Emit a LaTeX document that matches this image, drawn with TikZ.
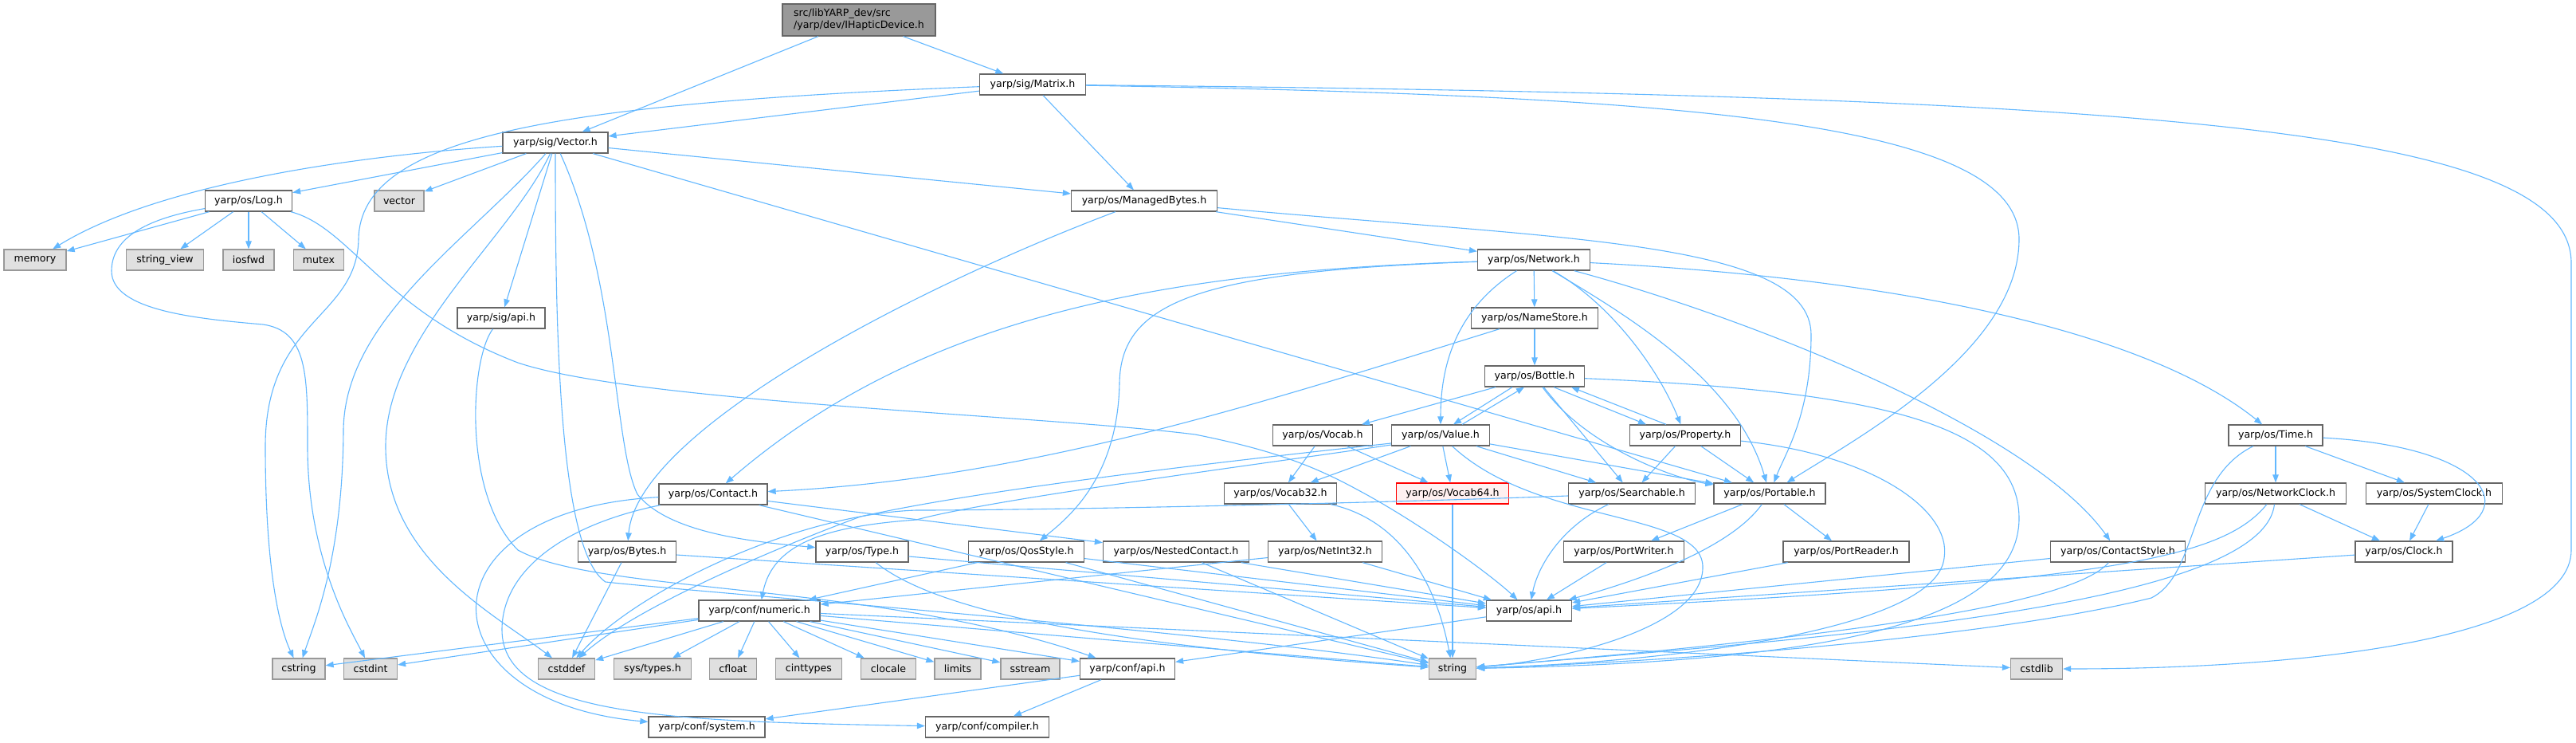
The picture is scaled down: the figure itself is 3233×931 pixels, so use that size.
\documentclass[tikz,border=0pt]{standalone}
\usepackage{fontspec}
\setmainfont{DejaVu Sans}
\usepackage{tikz}
\usetikzlibrary{arrows.meta}
\definecolor{edgeblue}{HTML}{63B8FF}
\definecolor{boxgray}{HTML}{666666}
\definecolor{sysgray}{HTML}{999999}
\definecolor{sysfill}{HTML}{E0E0E0}
\definecolor{rootfill}{HTML}{999999}
\definecolor{cutred}{HTML}{FF0000}
\definecolor{cutfill}{HTML}{FFF0F0}
\tikzstyle{link} = [draw=edgeblue, line width=1.1bp, -{Triangle[length=10bp,width=7.5bp]}]

\begin{document}
\begin{tikzpicture}[x=1bp, y=-1bp, font=\fontsize{12.6bp}{15bp}\selectfont,
	header/.style={rectangle, draw=boxgray, fill=white, line width=1.3bp, minimum width=#1, minimum height=26bp, inner sep=0pt},
	syshdr/.style={header=#1, draw=sysgray, fill=sysfill},
	cuthdr/.style={header=#1, draw=cutred, fill=cutfill},
	roothdr/.style={rectangle, draw=boxgray, fill=rootfill, line width=1.3bp, minimum width=192bp, minimum height=40bp, inner sep=0pt, align=left}]
			
			\useasboundingbox (0,0) rectangle (3233,931);
			\fill[white] (0,0) rectangle (3233,931);
			
			% HEADERS
			
			\node [roothdr] (ihaptic) at (1078,25) {src/libYARP\_dev/src\\/yarp/dev/IHapticDevice.h};
			\node [header=133bp] (matrix) at (1296,106) {yarp/sig/Matrix.h};
			\node [header=132bp] (vector) at (697,179) {yarp/sig/Vector.h};
			\node [header=109bp] (log) at (312,252) {yarp/os/Log.h};
			\node [header=183bp] (mbytes) at (1436,252) {yarp/os/ManagedBytes.h};
			\node [header=141bp] (network) at (1925,326) {yarp/os/Network.h};
			\node [header=110bp] (sigapi) at (629,399) {yarp/sig/api.h};
			\node [header=159bp] (namestore) at (1926,399) {yarp/os/NameStore.h};
			\node [header=125bp] (bottle) at (1926,472) {yarp/os/Bottle.h};
			\node [header=125bp] (vocab) at (1660,546) {yarp/os/Vocab.h};
			\node [header=123bp] (value) at (1808,546) {yarp/os/Value.h};
			\node [header=139bp] (property) at (2115,546) {yarp/os/Property.h};
			\node [header=118bp] (time) at (2856,546) {yarp/os/Time.h};
			\node [header=136bp] (contact) at (895,620) {yarp/os/Contact.h};
			\node [header=141bp] (vocab32) at (1607,619) {yarp/os/Vocab32.h};
			\node [cuthdr=141bp] (vocab64) at (1823,619) {yarp/os/Vocab64.h};
			\node [header=159bp] (searchable) at (2048,619) {yarp/os/Searchable.h};
			\node [header=140bp] (portable) at (2221,619) {yarp/os/Portable.h};
			\node [header=177bp] (netclock) at (2856,619) {yarp/os/NetworkClock.h};
			\node [header=171bp] (sysclock) at (3055,619) {yarp/os/SystemClock.h};
			\node [header=123bp] (bytes) at (787,692) {yarp/os/Bytes.h};
			\node [header=116bp] (type) at (1082,692) {yarp/os/Type.h};
			\node [header=145bp] (qos) at (1288,692) {yarp/os/QosStyle.h};
			\node [header=183bp] (nested) at (1476,692) {yarp/os/NestedContact.h};
			\node [header=143bp] (netint) at (1663,692) {yarp/os/NetInt32.h};
			\node [header=151bp] (pwriter) at (2038,692) {yarp/os/PortWriter.h};
			\node [header=158bp] (preader) at (2317,692) {yarp/os/PortReader.h};
			\node [header=169bp] (cstyle) at (2658,692) {yarp/os/ContactStyle.h};
			\node [header=122bp] (clock) at (3017,692) {yarp/os/Clock.h};
			\node [header=152bp] (numeric) at (953,766) {yarp/conf/numeric.h};
			\node [header=107bp] (osapi) at (1919,766) {yarp/os/api.h};
			\node [header=119bp] (confapi) at (1415,839) {yarp/conf/api.h};
			\node [header=146bp] (system) at (887,912) {yarp/conf/system.h};
			\node [header=155bp] (compiler) at (1239,912) {yarp/conf/compiler.h};
			
			% SYSTEM HEADERS
			
			\node [syshdr=62bp] (vec) at (501,252) {vector};
			\node [syshdr=78bp] (memory) at (44,326) {memory};
			\node [syshdr=97bp] (strview) at (207,326) {string\_view};
			\node [syshdr=64bp] (iosfwd) at (312,326) {iosfwd};
			\node [syshdr=63bp] (mutex) at (400,326) {mutex};
			\node [syshdr=66bp] (cstring) at (375,839) {cstring};
			\node [syshdr=67bp] (cstdint) at (465,839) {cstdint};
			\node [syshdr=71bp] (cstddef) at (711,839) {cstddef};
			\node [syshdr=97bp] (systypes) at (819,839) {sys/types.h};
			\node [syshdr=59bp] (cfloat) at (920,839) {cfloat};
			\node [syshdr=83bp] (cinttypes) at (1015,839) {cinttypes};
			\node [syshdr=69bp] (clocale) at (1115,839) {clocale};
			\node [syshdr=58bp] (limits) at (1202,839) {limits};
			\node [syshdr=74bp] (sstream) at (1293,839) {sstream};
			\node [syshdr=59bp] (string) at (1823,839) {string};
			\node [syshdr=65bp] (cstdlib) at (2556,839) {cstdlib};
			
			% INCLUDES
			
			\draw[link] (ihaptic) -- (vector);
			\draw[link] (ihaptic) -- (matrix);
			
			\draw[link] (matrix) -- (vector);
			\draw[link] (matrix) -- (mbytes);
			\draw[link] (matrix) .. controls (700,130) and (452,170) .. (450,300) .. controls (448,400) and (333,400) .. (333,560) .. controls (333,720) and (352,790) .. (cstring);
			\draw[link] (matrix) .. controls (2100,120) and (2534,150) .. (2534,300) .. controls (2534,440) and (2330,550) .. (portable);
			\draw[link] (matrix) .. controls (2700,120) and (3227,160) .. (3227,330) -- (3227,690) .. controls (3227,800) and (2900,839) .. (cstdlib);
			
			\draw[link] (vector) .. controls (450,195) and (200,230) .. (memory);
			\draw[link] (vector) -- (log);
			\draw[link] (vector) -- (vec);
			\draw[link] (vector) -- (mbytes);
			\draw[link] (vector) -- (portable);
			\draw[link] (vector) -- (sigapi);
			\draw[link] (vector) .. controls (590,300) and (432,400) .. (431,540) .. controls (430,700) and (395,780) .. (cstring);
			\draw[link] (vector) .. controls (640,300) and (484,420) .. (484,560) .. controls (484,700) and (620,770) .. (cstddef);
			\draw[link] (vector) .. controls (697,400) and (700,690) .. (760,730) .. controls (900,745) and (1500,790) .. (string);
			\draw[link] (vector) .. controls (775,350) and (770,560) .. (800,620) .. controls (840,670) and (950,680) .. (type);
			
			\draw[link] (log) -- (memory);
			\draw[link] (log) -- (strview);
			\draw[link] (log) -- (iosfwd);
			\draw[link] (log) -- (mutex);
			\draw[link] (log) .. controls (180,275) and (140,300) .. (140,340) .. controls (140,390) and (250,400) .. (330,407) .. controls (386,415) and (386,470) .. (386,560) .. controls (386,700) and (440,790) .. (cstdint);
			\draw[link] (log) .. controls (440,285) and (480,390) .. (650,455) .. controls (800,505) and (1300,520) .. (1500,545) .. controls (1600,565) and (1650,585) .. (1705,615) .. controls (1780,655) and (1870,720) .. (osapi);
			
			\draw[link] (mbytes) .. controls (1150,360) and (800,540) .. (bytes);
			\draw[link] (mbytes) -- (network);
			\draw[link] (mbytes) .. controls (1950,300) and (2273,300) .. (2273,420) .. controls (2273,520) and (2240,570) .. (portable);
			
			\draw[link] (network) .. controls (1450,340) and (1150,400) .. (contact);
			\draw[link] (network) .. controls (1500,340) and (1407,380) .. (1405,480) .. controls (1403,600) and (1340,650) .. (qos);
			\draw[link] (network) .. controls (1840,380) and (1808,440) .. (value);
			\draw[link] (network) -- (namestore);
			\draw[link] (network) .. controls (2020,380) and (2080,460) .. (property);
			\draw[link] (network) .. controls (2050,400) and (2180,480) .. (portable);
			\draw[link] (network) .. controls (2200,400) and (2550,540) .. (cstyle);
			\draw[link] (network) .. controls (2400,350) and (2700,420) .. (time);
			
			\draw[link] (namestore) -- (bottle);
			\draw[link] (namestore) .. controls (1600,500) and (1300,600) .. (contact);
			
			\draw[link] (bottle) -- (vocab);
			\draw[link] ([xshift=-28bp]bottle.south) -- ([xshift=16bp]value.north);
			\draw[link] ([xshift=24bp]bottle.south) -- ([xshift=-49bp]property.north);
			\draw[link] (bottle) -- (searchable);
			\draw[link] (bottle) .. controls (1990,560) and (2100,600) .. (portable);
			\draw[link] (bottle) .. controls (2350,490) and (2534,530) .. (2534,650) .. controls (2534,780) and (2300,830) .. (string);
			
			\draw[link] ([xshift=27bp]value.north) -- ([xshift=-13bp]bottle.south);
			\draw[link] (value) -- (vocab32);
			\draw[link] (value) -- (vocab64);
			\draw[link] (value) -- (searchable);
			\draw[link] (value) -- (portable);
			\draw[link] (value) .. controls (1930,660) and (2140,640) .. (2137,713) .. controls (2135,790) and (1950,830) .. (string);
			\draw[link] ([yshift=-10bp]value.west) .. controls (1600,572) and (1250,610) .. (1080,648) .. controls (980,685) and (800,760) .. (cstddef);
			\draw[link] ([yshift=-12bp]value.west) .. controls (1600,580) and (1250,625) .. (1150,652) .. controls (1040,660) and (970,680) .. (numeric);
			
			\draw[link] ([xshift=-24bp]property.north) -- ([xshift=46bp]bottle.south);
			\draw[link] (property) -- (searchable);
			\draw[link] (property) -- (portable);
			\draw[link] (property) .. controls (2350,570) and (2450,640) .. (2440,700) .. controls (2430,790) and (2100,830) .. (string);
			
			\draw[link] (vocab) -- (vocab32);
			\draw[link] (vocab) -- (vocab64);
			\draw[link] (vocab32) -- (netint);
			\draw[link] (vocab32) .. controls (1750,650) and (1800,720) .. (string);
			\draw[link] (vocab64) -- (string);
			
			\draw[link] (searchable) .. controls (1960,660) and (1930,710) .. (osapi);
			\draw[link] (searchable) .. controls (1700,632) and (1300,640) .. (1150,640) .. controls (1000,645) and (800,740) .. (cstddef);
			
			\draw[link] (portable) -- (pwriter);
			\draw[link] (portable) -- (preader);
			\draw[link] (portable) .. controls (2170,690) and (2050,730) .. (osapi);
			\draw[link] (pwriter) -- (osapi);
			\draw[link] (preader) -- (osapi);
			
			\draw[link] ([yshift=-6bp]type.east) -- (osapi);
			\draw[link] (type) .. controls (1180,770) and (1400,810) .. (string);
			\draw[link] (qos) -- (osapi);
			\draw[link] (qos) -- (string);
			\draw[link] (qos) -- (numeric);
			\draw[link] (nested) -- (osapi);
			\draw[link] (nested) -- (string);
			\draw[link] (netint) -- (osapi);
			\draw[link] (netint) -- (numeric);
			
			\draw[link] (contact) -- (nested);
			\draw[link] (contact) -- (string);
			\draw[link] (contact) .. controls (520,640) and (530,880) .. (system);
			\draw[link] (contact) .. controls (700,660) and (630,720) .. (630,790) .. controls (630,900) and (850,905) .. (compiler);
			\draw[link] (bytes) -- (cstddef);
			\draw[link] (bytes) -- (osapi);
			
			\draw[link] (numeric) -- (cstring);
			\draw[link] (numeric) -- (cstdint);
			\draw[link] (numeric) -- (cstddef);
			\draw[link] (numeric) -- (systypes);
			\draw[link] (numeric) -- (cfloat);
			\draw[link] (numeric) -- (cinttypes);
			\draw[link] (numeric) -- (clocale);
			\draw[link] (numeric) -- (limits);
			\draw[link] (numeric) -- (sstream);
			\draw[link] (numeric) -- (confapi);
			\draw[link] (numeric) -- (string);
			\draw[link] (numeric) -- (cstdlib);
			
			\draw[link] (sigapi) .. controls (590,450) and (580,620) .. (650,690) .. controls (750,745) and (1100,730) .. (confapi);
			\draw[link] (osapi) -- (confapi);
			\draw[link] (confapi) -- (system);
			\draw[link] (confapi) -- (compiler);
			
			\draw[link] (cstyle) -- (osapi);
			\draw[link] (cstyle) .. controls (2600,760) and (2300,800) .. (string);
			\draw[link] (time) -- (netclock);
			\draw[link] (time) -- (sysclock);
			\draw[link] (time) .. controls (3120,560) and (3170,640) .. (clock);
			\draw[link] (time) .. controls (2745,600) and (2760,720) .. (2700,750) .. controls (2500,800) and (2100,830) .. (string);
			\draw[link] (netclock) -- (clock);
			\draw[link] (netclock) .. controls (2790,700) and (2650,730) .. (osapi);
			\draw[link] (netclock) .. controls (2840,760) and (2300,800) .. (string);
			\draw[link] (sysclock) -- (clock);
			\draw[link] (clock) -- (osapi);
			
\end{tikzpicture}
\end{document}
